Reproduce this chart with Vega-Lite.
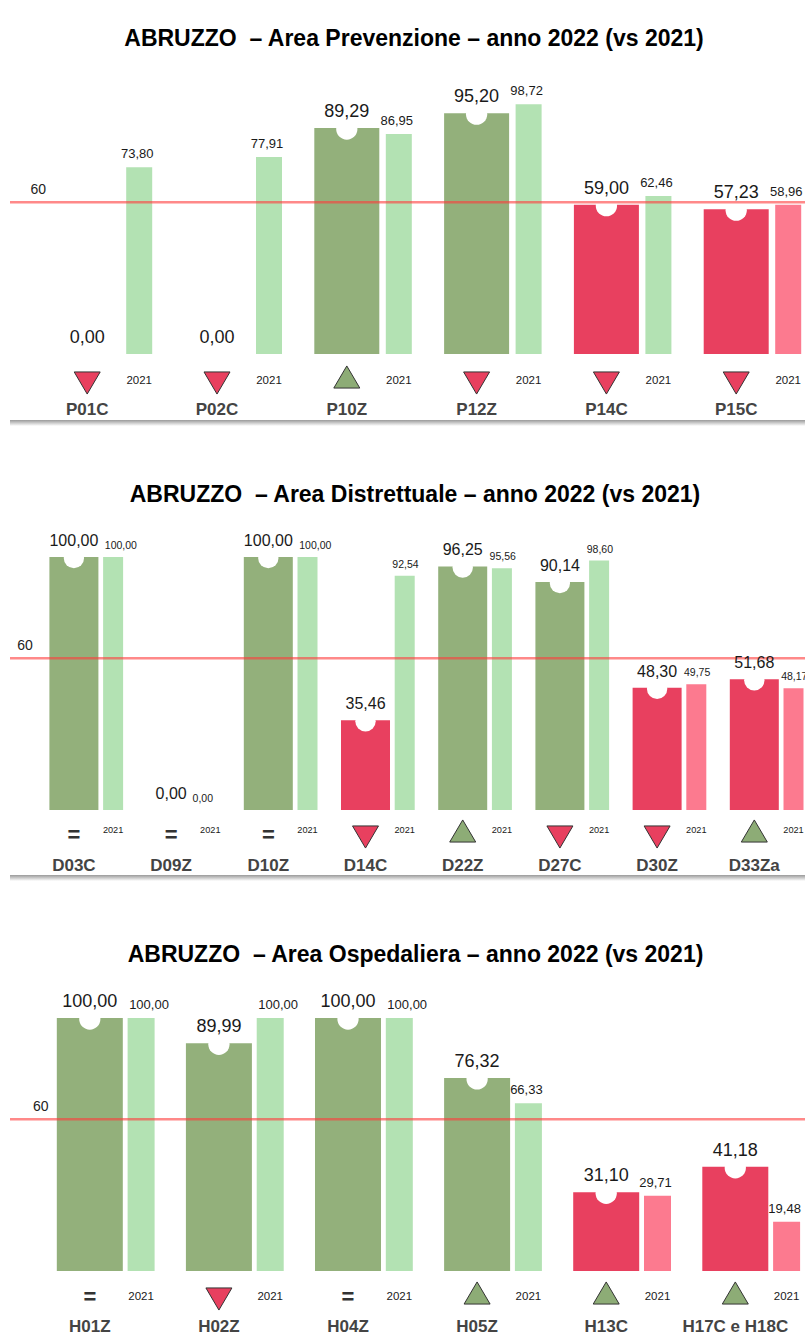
{
  "$schema": "https://vega.github.io/schema/vega-lite/v6.json",
  "padding": {"left": 8, "top": 10, "right": 0, "bottom": 0},
  "background": "white",
  "spacing": 40,
  "bounds": "flush",
  "config": {
    "font": "Liberation Sans",
    "view": {"stroke": null},
    "locale": {"number": {"decimal": ",", "thousands": ".", "grouping": [3], "currency": ["", " €"]}}
  },
  "datasets": {
    "soglia": [{"soglia": 60}],
    "card": [{"card": 1}],
    "prev": [
      {"cat": "P01C", "year": 2022, "value": 0.00, "trend": "down"},
      {"cat": "P01C", "year": 2021, "value": 73.80},
      {"cat": "P02C", "year": 2022, "value": 0.00, "trend": "down"},
      {"cat": "P02C", "year": 2021, "value": 77.91},
      {"cat": "P10Z", "year": 2022, "value": 89.29, "trend": "up"},
      {"cat": "P10Z", "year": 2021, "value": 86.95},
      {"cat": "P12Z", "year": 2022, "value": 95.20, "trend": "down"},
      {"cat": "P12Z", "year": 2021, "value": 98.72},
      {"cat": "P14C", "year": 2022, "value": 59.00, "trend": "down"},
      {"cat": "P14C", "year": 2021, "value": 62.46},
      {"cat": "P15C", "year": 2022, "value": 57.23, "trend": "down"},
      {"cat": "P15C", "year": 2021, "value": 58.96}
    ],
    "distr": [
      {"cat": "D03C", "year": 2022, "value": 100.00, "trend": "eq"},
      {"cat": "D03C", "year": 2021, "value": 100.00},
      {"cat": "D09Z", "year": 2022, "value": 0.00, "trend": "eq"},
      {"cat": "D09Z", "year": 2021, "value": 0.00},
      {"cat": "D10Z", "year": 2022, "value": 100.00, "trend": "eq"},
      {"cat": "D10Z", "year": 2021, "value": 100.00},
      {"cat": "D14C", "year": 2022, "value": 35.46, "trend": "down"},
      {"cat": "D14C", "year": 2021, "value": 92.54},
      {"cat": "D22Z", "year": 2022, "value": 96.25, "trend": "up"},
      {"cat": "D22Z", "year": 2021, "value": 95.56},
      {"cat": "D27C", "year": 2022, "value": 90.14, "trend": "down"},
      {"cat": "D27C", "year": 2021, "value": 98.60},
      {"cat": "D30Z", "year": 2022, "value": 48.30, "trend": "down"},
      {"cat": "D30Z", "year": 2021, "value": 49.75},
      {"cat": "D33Za", "year": 2022, "value": 51.68, "trend": "up"},
      {"cat": "D33Za", "year": 2021, "value": 48.17}
    ],
    "osp": [
      {"cat": "H01Z", "year": 2022, "value": 100.00, "trend": "eq"},
      {"cat": "H01Z", "year": 2021, "value": 100.00},
      {"cat": "H02Z", "year": 2022, "value": 89.99, "trend": "down"},
      {"cat": "H02Z", "year": 2021, "value": 100.00},
      {"cat": "H04Z", "year": 2022, "value": 100.00, "trend": "eq"},
      {"cat": "H04Z", "year": 2021, "value": 100.00},
      {"cat": "H05Z", "year": 2022, "value": 76.32, "trend": "up"},
      {"cat": "H05Z", "year": 2021, "value": 66.33},
      {"cat": "H13C", "year": 2022, "value": 31.10, "trend": "up"},
      {"cat": "H13C", "year": 2021, "value": 29.71},
      {"cat": "H17C e H18C", "year": 2022, "value": 41.18, "trend": "up"},
      {"cat": "H17C e H18C", "year": 2021, "value": 19.48}
    ]
  },
  "vconcat": [
    {
      "width": 797,
      "height": 416,
      "title": {"text": "ABRUZZO\u00a0 – Area Prevenzione – anno 2022 (vs 2021)", "fontSize": 23, "fontWeight": "bold", "color": "#000000", "anchor": "middle", "baseline": "alphabetic", "offset": -59, "dx": 5.5},
      "layer": [
        {
          "data": {"name": "card"},
          "mark": {"type": "rect", "fill": {"gradient": "linear", "x1": 0, "y1": 0, "x2": 0, "y2": 1, "stops": [{"offset": 0, "color": "#9a9a9a"}, {"offset": 1, "color": "#ffffff"}]}},
          "encoding": {
            "y": {"datum": -26.09, "type": "quantitative", "axis": null, "scale": {"domain": [-28.458, 135.968], "nice": false, "zero": false}},
            "y2": {"datum": -28.458}
          }
        },
        {
          "data": {"name": "prev"},
          "encoding": {
            "x": {"field": "cat", "type": "nominal", "sort": null, "axis": null, "scale": {"paddingInner": 0, "paddingOuter": 0.0701, "align": 0.676}},
            "y": {"field": "value", "type": "quantitative", "axis": null, "scale": {"domain": [-28.458, 135.968], "nice": false, "zero": false}}
          },
          "layer": [
            {"transform": [{"filter": "datum.year == 2021"}], "mark": {"type": "bar", "width": 26, "xOffset": 52}, "encoding": {"y2": {"datum": 0}, "color": {"condition": {"test": "datum.value >= 60", "value": "#b3e2b3"}, "value": "#fc7a8f"}}},
            {"transform": [{"filter": "datum.year == 2022"}], "mark": {"type": "bar", "width": 65}, "encoding": {"y2": {"datum": 0}, "color": {"condition": {"test": "datum.value >= 60", "value": "#93b07b"}, "value": "#e8405f"}}},
            {"transform": [{"filter": "datum.year == 2022 && datum.value > 0"}], "mark": {"type": "point", "shape": "circle", "filled": true, "fill": "#ffffff", "opacity": 1, "size": 452, "strokeWidth": 0, "yOffset": 1}}
          ]
        },
        {
          "data": {"name": "soglia"},
          "mark": {"type": "rule", "color": "#ff3b3b", "opacity": 0.6, "strokeWidth": 2.5},
          "encoding": {"y": {"field": "soglia", "type": "quantitative", "axis": null, "scale": {"domain": [-28.458, 135.968], "nice": false, "zero": false}}}
        },
        {
          "data": {"name": "soglia"},
          "mark": {"type": "text", "fontSize": 14, "color": "#222222", "baseline": "alphabetic", "dy": -8, "xOffset": -49},
          "encoding": {
            "x": {"datum": "P01C", "type": "nominal", "axis": null, "scale": {"paddingInner": 0, "paddingOuter": 0.0701, "align": 0.676}},
            "y": {"field": "soglia", "type": "quantitative", "axis": null, "scale": {"domain": [-28.458, 135.968], "nice": false, "zero": false}},
            "text": {"field": "soglia", "type": "quantitative"}
          }
        },
        {
          "data": {"name": "prev"},
          "encoding": {
            "x": {"field": "cat", "type": "nominal", "sort": null, "axis": null, "scale": {"paddingInner": 0, "paddingOuter": 0.0701, "align": 0.676}},
            "y": {"field": "value", "type": "quantitative", "axis": null, "scale": {"domain": [-28.458, 135.968], "nice": false, "zero": false}}
          },
          "layer": [
            {"transform": [{"filter": "datum.year == 2022"}], "mark": {"type": "text", "fontSize": 18, "baseline": "alphabetic", "dy": -11, "color": "#1a1a1a"}, "encoding": {"text": {"field": "value", "type": "quantitative", "format": ".2f"}}},
            {"transform": [{"filter": "datum.year == 2021"}], "mark": {"type": "text", "fontSize": 13, "baseline": "alphabetic", "dy": -9, "xOffset": 50, "color": "#1a1a1a"}, "encoding": {"text": {"field": "value", "type": "quantitative", "format": ".2f"}}},
            {"transform": [{"filter": "datum.year == 2022 && datum.trend == 'down'"}], "mark": {"type": "point", "shape": "M-1,-0.85L1,-0.85L0,0.85Z", "filled": true, "fill": "#e8405f", "stroke": "#333333", "strokeWidth": 1, "opacity": 1, "size": 676, "yOffset": 29}, "encoding": {"y": {"datum": 0, "type": "quantitative"}}},
            {"transform": [{"filter": "datum.year == 2022 && datum.trend == 'up'"}], "mark": {"type": "point", "shape": "M-1,0.85L1,0.85L0,-0.85Z", "filled": true, "fill": "#8dac76", "stroke": "#333333", "strokeWidth": 1, "opacity": 1, "size": 676, "yOffset": 23}, "encoding": {"y": {"datum": 0, "type": "quantitative"}}},
            {"transform": [{"filter": "datum.year == 2022 && datum.trend == 'eq'"}], "mark": {"type": "text", "text": "=", "fontSize": 22, "fontWeight": "bold", "color": "#333333", "baseline": "middle", "dy": 26}, "encoding": {"y": {"datum": 0, "type": "quantitative"}}},
            {"transform": [{"filter": "datum.year == 2021"}], "mark": {"type": "text", "fontSize": 11.5, "baseline": "middle", "dy": 27, "xOffset": 52, "color": "#1a1a1a"}, "encoding": {"y": {"datum": 0, "type": "quantitative"}, "text": {"field": "year", "type": "nominal"}}},
            {"transform": [{"filter": "datum.year == 2022"}], "mark": {"type": "text", "fontSize": 17, "fontWeight": "bold", "color": "#444444", "baseline": "alphabetic", "dy": 61}, "encoding": {"y": {"datum": 0, "type": "quantitative"}, "text": {"field": "cat", "type": "nominal"}}}
          ]
        }
      ]
    },
    {
      "width": 797,
      "height": 415,
      "title": {"text": "ABRUZZO\u00a0 – Area Distrettuale – anno 2022 (vs 2021)", "fontSize": 23, "fontWeight": "bold", "color": "#000000", "anchor": "middle", "baseline": "alphabetic", "offset": -59, "dx": 6.5},
      "layer": [
        {
          "data": {"name": "card"},
          "mark": {"type": "rect", "fill": {"gradient": "linear", "x1": 0, "y1": 0, "x2": 0, "y2": 1, "stops": [{"offset": 0, "color": "#9a9a9a"}, {"offset": 1, "color": "#ffffff"}]}},
          "encoding": {
            "y": {"datum": -25.69, "type": "quantitative", "axis": null, "scale": {"domain": [-28.063, 135.968], "nice": false, "zero": false}},
            "y2": {"datum": -28.063}
          }
        },
        {
          "data": {"name": "distr"},
          "encoding": {
            "x": {"field": "cat", "type": "nominal", "sort": null, "axis": null, "scale": {"paddingInner": 0, "paddingOuter": 0.0998, "align": 0.789}},
            "y": {"field": "value", "type": "quantitative", "axis": null, "scale": {"domain": [-28.063, 135.968], "nice": false, "zero": false}}
          },
          "layer": [
            {"transform": [{"filter": "datum.year == 2021"}], "mark": {"type": "bar", "width": 20, "xOffset": 39.2}, "encoding": {"y2": {"datum": 0}, "color": {"condition": {"test": "datum.value >= 60", "value": "#b3e2b3"}, "value": "#fc7a8f"}}},
            {"transform": [{"filter": "datum.year == 2022"}], "mark": {"type": "bar", "width": 49}, "encoding": {"y2": {"datum": 0}, "color": {"condition": {"test": "datum.value >= 60", "value": "#93b07b"}, "value": "#e8405f"}}},
            {"transform": [{"filter": "datum.year == 2022 && datum.value > 0"}], "mark": {"type": "point", "shape": "circle", "filled": true, "fill": "#ffffff", "opacity": 1, "size": 415, "strokeWidth": 0, "yOffset": 1}}
          ]
        },
        {
          "data": {"name": "soglia"},
          "mark": {"type": "rule", "color": "#ff3b3b", "opacity": 0.6, "strokeWidth": 2.5},
          "encoding": {"y": {"field": "soglia", "type": "quantitative", "axis": null, "scale": {"domain": [-28.063, 135.968], "nice": false, "zero": false}}}
        },
        {
          "data": {"name": "soglia"},
          "mark": {"type": "text", "fontSize": 14, "color": "#222222", "baseline": "alphabetic", "dy": -8, "xOffset": -49},
          "encoding": {
            "x": {"datum": "D03C", "type": "nominal", "axis": null, "scale": {"paddingInner": 0, "paddingOuter": 0.0998, "align": 0.789}},
            "y": {"field": "soglia", "type": "quantitative", "axis": null, "scale": {"domain": [-28.063, 135.968], "nice": false, "zero": false}},
            "text": {"field": "soglia", "type": "quantitative"}
          }
        },
        {
          "data": {"name": "distr"},
          "encoding": {
            "x": {"field": "cat", "type": "nominal", "sort": null, "axis": null, "scale": {"paddingInner": 0, "paddingOuter": 0.0998, "align": 0.789}},
            "y": {"field": "value", "type": "quantitative", "axis": null, "scale": {"domain": [-28.063, 135.968], "nice": false, "zero": false}}
          },
          "layer": [
            {"transform": [{"filter": "datum.year == 2022"}], "mark": {"type": "text", "fontSize": 16, "baseline": "alphabetic", "dy": -11, "color": "#1a1a1a"}, "encoding": {"text": {"field": "value", "type": "quantitative", "format": ".2f"}}},
            {"transform": [{"filter": "datum.year == 2021 && datum.value > 0 && datum.value < 99.995"}], "mark": {"type": "text", "fontSize": 10.5, "baseline": "alphabetic", "dy": -8, "xOffset": 40, "color": "#1a1a1a"}, "encoding": {"text": {"field": "value", "type": "quantitative", "format": ".2f"}}},
            {"transform": [{"filter": "datum.year == 2021 && datum.value >= 99.995"}], "mark": {"type": "text", "fontSize": 10.5, "baseline": "alphabetic", "dy": -8, "xOffset": 47, "color": "#1a1a1a"}, "encoding": {"text": {"field": "value", "type": "quantitative", "format": ".2f"}}},
            {"transform": [{"filter": "datum.year == 2021 && datum.value == 0"}], "mark": {"type": "text", "fontSize": 10.5, "baseline": "alphabetic", "dy": -8, "xOffset": 31.7, "color": "#1a1a1a"}, "encoding": {"text": {"field": "value", "type": "quantitative", "format": ".2f"}}},
            {"transform": [{"filter": "datum.year == 2022 && datum.trend == 'down'"}], "mark": {"type": "point", "shape": "M-1,-0.85L1,-0.85L0,0.85Z", "filled": true, "fill": "#e8405f", "stroke": "#333333", "strokeWidth": 1, "opacity": 1, "size": 676, "yOffset": 27}, "encoding": {"y": {"datum": 0, "type": "quantitative"}}},
            {"transform": [{"filter": "datum.year == 2022 && datum.trend == 'up'"}], "mark": {"type": "point", "shape": "M-1,0.85L1,0.85L0,-0.85Z", "filled": true, "fill": "#8dac76", "stroke": "#333333", "strokeWidth": 1, "opacity": 1, "size": 676, "yOffset": 21}, "encoding": {"y": {"datum": 0, "type": "quantitative"}}},
            {"transform": [{"filter": "datum.year == 2022 && datum.trend == 'eq'"}], "mark": {"type": "text", "text": "=", "fontSize": 22, "fontWeight": "bold", "color": "#333333", "baseline": "middle", "dy": 25}, "encoding": {"y": {"datum": 0, "type": "quantitative"}}},
            {"transform": [{"filter": "datum.year == 2021"}], "mark": {"type": "text", "fontSize": 9.2, "baseline": "middle", "dy": 20, "xOffset": 39.2, "color": "#1a1a1a"}, "encoding": {"y": {"datum": 0, "type": "quantitative"}, "text": {"field": "year", "type": "nominal"}}},
            {"transform": [{"filter": "datum.year == 2022"}], "mark": {"type": "text", "fontSize": 17, "fontWeight": "bold", "color": "#444444", "baseline": "alphabetic", "dy": 61}, "encoding": {"y": {"datum": 0, "type": "quantitative"}, "text": {"field": "cat", "type": "nominal"}}}
          ]
        }
      ]
    },
    {
      "width": 797,
      "height": 417,
      "title": {"text": "ABRUZZO\u00a0 – Area Ospedaliera – anno 2022 (vs 2021)", "fontSize": 23, "fontWeight": "bold", "color": "#000000", "anchor": "middle", "baseline": "alphabetic", "offset": -64, "dx": 7},
      "layer": [
        {
          "data": {"name": "osp"},
          "encoding": {
            "x": {"field": "cat", "type": "nominal", "sort": null, "axis": null, "scale": {"paddingInner": 0, "paddingOuter": 0.0868, "align": 0.681}},
            "y": {"field": "value", "type": "quantitative", "axis": null, "scale": {"domain": [-26.482, 138.34], "nice": false, "zero": false}}
          },
          "layer": [
            {"transform": [{"filter": "datum.year == 2021"}], "mark": {"type": "bar", "width": 27, "xOffset": 51.3}, "encoding": {"y2": {"datum": 0}, "color": {"condition": {"test": "datum.value >= 60", "value": "#b3e2b3"}, "value": "#fc7a8f"}}},
            {"transform": [{"filter": "datum.year == 2022"}], "mark": {"type": "bar", "width": 66}, "encoding": {"y2": {"datum": 0}, "color": {"condition": {"test": "datum.value >= 60", "value": "#93b07b"}, "value": "#e8405f"}}},
            {"transform": [{"filter": "datum.year == 2022 && datum.value > 0"}], "mark": {"type": "point", "shape": "circle", "filled": true, "fill": "#ffffff", "opacity": 1, "size": 452, "strokeWidth": 0, "yOffset": 1}}
          ]
        },
        {
          "data": {"name": "soglia"},
          "mark": {"type": "rule", "color": "#ff3b3b", "opacity": 0.6, "strokeWidth": 2.5},
          "encoding": {"y": {"field": "soglia", "type": "quantitative", "axis": null, "scale": {"domain": [-26.482, 138.34], "nice": false, "zero": false}}}
        },
        {
          "data": {"name": "soglia"},
          "mark": {"type": "text", "fontSize": 14, "color": "#222222", "baseline": "alphabetic", "dy": -8, "xOffset": -49},
          "encoding": {
            "x": {"datum": "H01Z", "type": "nominal", "axis": null, "scale": {"paddingInner": 0, "paddingOuter": 0.0868, "align": 0.681}},
            "y": {"field": "soglia", "type": "quantitative", "axis": null, "scale": {"domain": [-26.482, 138.34], "nice": false, "zero": false}},
            "text": {"field": "soglia", "type": "quantitative"}
          }
        },
        {
          "data": {"name": "osp"},
          "encoding": {
            "x": {"field": "cat", "type": "nominal", "sort": null, "axis": null, "scale": {"paddingInner": 0, "paddingOuter": 0.0868, "align": 0.681}},
            "y": {"field": "value", "type": "quantitative", "axis": null, "scale": {"domain": [-26.482, 138.34], "nice": false, "zero": false}}
          },
          "layer": [
            {"transform": [{"filter": "datum.year == 2022"}], "mark": {"type": "text", "fontSize": 18, "baseline": "alphabetic", "dy": -11, "color": "#1a1a1a"}, "encoding": {"text": {"field": "value", "type": "quantitative", "format": ".2f"}}},
            {"transform": [{"filter": "datum.year == 2021 && datum.value < 99.995"}], "mark": {"type": "text", "fontSize": 13, "baseline": "alphabetic", "dy": -9, "xOffset": 49.3, "color": "#1a1a1a"}, "encoding": {"text": {"field": "value", "type": "quantitative", "format": ".2f"}}},
            {"transform": [{"filter": "datum.year == 2021 && datum.value >= 99.995"}], "mark": {"type": "text", "fontSize": 13, "baseline": "alphabetic", "dy": -9, "xOffset": 59.2, "color": "#1a1a1a"}, "encoding": {"text": {"field": "value", "type": "quantitative", "format": ".2f"}}},
            {"transform": [{"filter": "datum.year == 2022 && datum.trend == 'down'"}], "mark": {"type": "point", "shape": "M-1,-0.85L1,-0.85L0,0.85Z", "filled": true, "fill": "#e8405f", "stroke": "#333333", "strokeWidth": 1, "opacity": 1, "size": 676, "yOffset": 28}, "encoding": {"y": {"datum": 0, "type": "quantitative"}}},
            {"transform": [{"filter": "datum.year == 2022 && datum.trend == 'up'"}], "mark": {"type": "point", "shape": "M-1,0.85L1,0.85L0,-0.85Z", "filled": true, "fill": "#8dac76", "stroke": "#333333", "strokeWidth": 1, "opacity": 1, "size": 676, "yOffset": 22}, "encoding": {"y": {"datum": 0, "type": "quantitative"}}},
            {"transform": [{"filter": "datum.year == 2022 && datum.trend == 'eq'"}], "mark": {"type": "text", "text": "=", "fontSize": 22, "fontWeight": "bold", "color": "#333333", "baseline": "middle", "dy": 26}, "encoding": {"y": {"datum": 0, "type": "quantitative"}}},
            {"transform": [{"filter": "datum.year == 2021"}], "mark": {"type": "text", "fontSize": 11.5, "baseline": "middle", "dy": 26, "xOffset": 51.3, "color": "#1a1a1a"}, "encoding": {"y": {"datum": 0, "type": "quantitative"}, "text": {"field": "year", "type": "nominal"}}},
            {"transform": [{"filter": "datum.year == 2022"}], "mark": {"type": "text", "fontSize": 17, "fontWeight": "bold", "color": "#444444", "baseline": "alphabetic", "dy": 61}, "encoding": {"y": {"datum": 0, "type": "quantitative"}, "text": {"field": "cat", "type": "nominal"}}}
          ]
        }
      ]
    }
  ]
}
